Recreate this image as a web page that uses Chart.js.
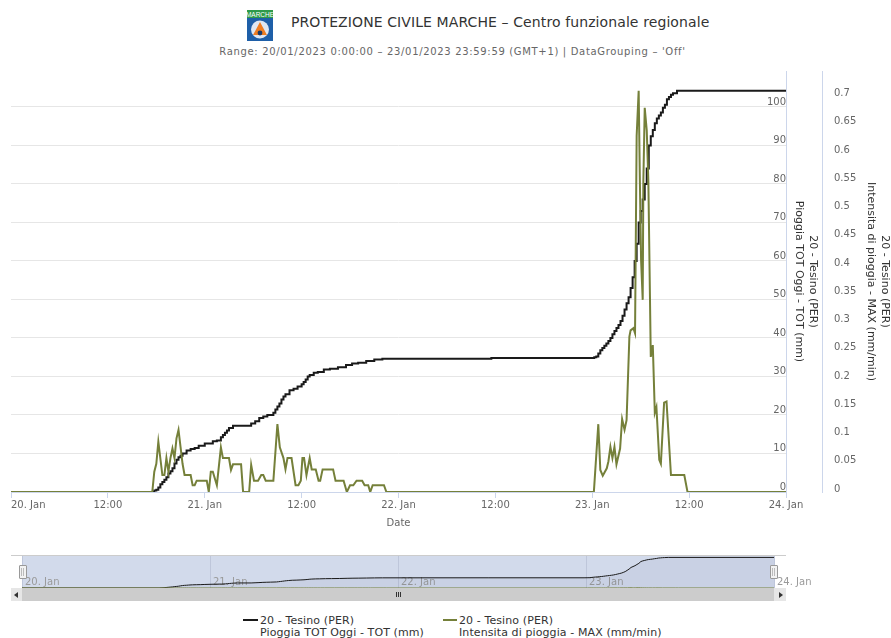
<!DOCTYPE html>
<html><head><meta charset="utf-8">
<script src="https://cdn.jsdelivr.net/npm/chart.js@4/dist/chart.umd.min.js"></script>
<style>
html,body{margin:0;padding:0;background:#fff;width:891px;height:638px;overflow:hidden;font-family:"DejaVu Sans",sans-serif}
canvas{position:absolute;display:block}
.t{position:absolute;white-space:nowrap;text-align:center}
.box{position:absolute;box-sizing:border-box}
.leg{position:absolute;white-space:pre;font-size:11px;line-height:12px;color:#333;top:615px;letter-spacing:.1px}
</style></head><body>
<svg style="position:absolute;left:247px;top:10px" width="26" height="31" viewBox="0 0 26 31">
<rect width="26" height="31" fill="#1e5fa8"/><rect width="26" height="8" fill="#2e9a4a"/>
<text x="13" y="7" text-anchor="middle" font-size="6.5" fill="#fff" font-family="Liberation Sans Narrow, Liberation Sans">MARCHE</text>
<circle cx="13" cy="19.5" r="9" fill="#dfe7f2"/><path d="M13 12 L20 25 H6 Z" fill="#ee7d22"/><circle cx="13" cy="23" r="2.4" fill="#1b3b68"/>
</svg>
<div class="t" id="mainTitle" style="left:291px;width:418px;top:13px;font-size:14px;line-height:18px;color:#333;letter-spacing:.1px"></div>
<div class="t" id="subTitle" style="left:219px;width:467px;top:45px;font-size:10px;line-height:13px;color:#666;letter-spacing:.67px"></div>
<canvas id="main" width="891" height="545" style="left:0;top:0"></canvas>
<canvas id="nav" width="891" height="43" style="left:0;top:545px"></canvas>
<div class="box" style="left:11px;top:555px;width:11px;height:1px;background:#ccc"></div>
<div class="box" style="left:774px;top:555px;width:12px;height:1px;background:#ccc"></div>
<div class="box" style="left:22px;top:588px;width:752px;height:13px;background:#ccc"></div>
<div class="box" style="left:11px;top:588px;width:11px;height:13px;background:#e6e6e6"></div>
<div class="box" style="left:774px;top:588px;width:12px;height:13px;background:#e6e6e6"></div>
<div class="box" style="left:14px;top:592px;border:3px solid transparent;border-right:4px solid #333;border-left:0"></div>
<div class="box" style="left:779px;top:592px;border:3px solid transparent;border-left:4px solid #333;border-right:0"></div>
<div class="box" style="left:396px;top:592px;width:5px;height:5px;background:repeating-linear-gradient(90deg,#333 0 1px,#ccc 1px 2px)"></div>
<div class="box" style="left:19px;top:565px;width:8px;height:14px;background:#f2f2f2;border:1px solid #999;border-radius:1px"></div>
<div class="box" style="left:21px;top:568px;width:3px;height:8px;border-left:1px solid #bbb;border-right:1px solid #bbb"></div>
<div class="box" style="left:770px;top:565px;width:8px;height:14px;background:#f2f2f2;border:1px solid #999;border-radius:1px"></div>
<div class="box" style="left:772px;top:568px;width:3px;height:8px;border-left:1px solid #bbb;border-right:1px solid #bbb"></div>
<div class="box" id="swatch0" style="left:243px;top:619px;width:15px;height:2px"></div>
<div class="leg" id="legend0" style="left:260px"></div>
<div class="box" id="swatch1" style="left:443px;top:619px;width:14px;height:2px"></div>
<div class="leg" id="legend1" style="left:459px"></div>
<script>
const titleText = "PROTEZIONE CIVILE MARCHE \u2013 Centro funzionale regionale";
const subtitleText = "Range: 20/01/2023 0:00:00 \u2013 23/01/2023 23:59:59 (GMT+1) | DataGrouping \u2013 'Off'";
const xTickLabels = ["20. Jan","12:00","21. Jan","12:00","22. Jan","12:00","23. Jan","12:00","24. Jan"];
const navTickLabels = ["20. Jan","21. Jan","22. Jan","23. Jan","24. Jan"];
const xAxisTitle = "Date";
const totalAxisTitle = ["20 - Tesino (PER)","Pioggia TOT Oggi - TOT (mm)"];
const rateAxisTitle = ["20 - Tesino (PER)","Intensita di pioggia - MAX (mm/min)"];
const totalLegend = ["20 - Tesino (PER)","Pioggia TOT Oggi - TOT (mm)"];
const rateLegend = ["20 - Tesino (PER)","Intensita di pioggia - MAX (mm/min)"];

// hours since 20 Jan 00:00
const totalHours = [0,17.5,17.75,18,18.25,18.5,18.75,19,19.25,19.5,19.75,20,20.25,20.5,20.75,21,21.25,21.75,22.25,22.75,23.25,24,25,25.5,26,26.25,26.5,26.75,27,27.5,29.25,29.75,30.25,30.75,31.25,31.75,32.5,32.75,33,33.25,33.5,33.75,34,34.5,35,35.5,36,36.25,36.5,36.75,37,37.5,38,38.75,39.5,40.5,41.5,42.25,43,44,45,46,59.5,71.75,72.25,72.5,72.75,73,73.25,73.5,73.75,74,74.25,74.5,74.75,75,75.25,75.5,75.75,76,76.25,76.5,76.75,77,77.25,77.5,77.75,78,78.25,78.5,78.75,79,79.25,79.5,79.75,80,80.25,80.5,80.75,81,81.25,81.5,81.75,82,82.5,96];
const totalValues = [0,0,0.4,0.6,1.2,2,2.6,3.2,3.8,4.8,5.4,6.2,7.4,8.4,9,9.4,10,10.8,11.2,11.4,12,12.6,13.2,13.4,14.2,14.8,15.4,16,16.6,17.2,17.2,17.8,18.4,19.2,19.6,20,20.6,21.4,22.2,23,24,24.8,25.4,26.4,26.8,27.4,28,28.6,29.2,30,30.4,31,31.2,31.8,32,32.4,33,33.4,33.6,34,34.4,34.6,34.8,34.8,35,35.2,36,36.8,37.4,38,38.6,39.2,40,41,41.8,42.6,43.4,44.4,45.8,47.4,49,50.6,53,55.8,60,64.5,70,73,76,80,84,90,92.4,94,95.8,97,97.8,98.6,99.8,100.6,102,102.6,103.2,103.6,104.2,104.2];
const rateHours = [0,17.5,17.75,18,18.25,18.75,19,19.25,19.5,19.75,20,20.25,20.5,20.75,21,21.25,21.5,22.25,22.5,22.75,23,24.25,24.5,24.75,25,25.5,26,26.25,26.75,27,27.25,27.5,28.5,28.75,29.5,29.75,30.1,30.6,31,31.25,31.55,32.5,33,33.3,33.75,34,34.25,34.75,35.25,35.6,35.9,36.1,36.3,36.6,37,37.25,37.75,38.1,38.3,38.6,39.9,40.2,41.2,41.6,42,42.4,42.8,43.5,43.8,44.25,44.5,44.8,46.2,46.5,72.2,72.75,73,73.3,73.8,74,74.25,74.5,74.75,75,75.45,75.7,76,76.25,76.6,76.75,77.1,77.3,77.5,77.75,77.9,78.05,78.25,78.33,78.5,78.75,78.95,79.25,79.5,79.75,79.95,80.3,80.5,80.9,81.2,81.75,83.4,83.8,96];
const rateValues = [0,0,0.036,0.05,0.089,0.03,0.03,0.06,0.036,0.06,0.077,0.06,0.095,0.11,0.08,0.05,0.03,0.03,0.012,0.012,0.02,0.02,0,0.036,0.036,0.012,0.079,0.06,0.06,0.06,0.039,0.049,0.049,0,0,0.048,0.02,0.02,0.03,0.03,0.02,0.02,0.12,0.079,0.06,0.04,0.06,0.06,0.012,0.012,0.02,0.06,0.06,0.03,0.06,0.04,0.04,0.02,0.02,0.04,0.04,0.02,0.02,0,0.012,0.012,0.02,0.02,0.012,0.012,0,0.012,0.012,0,0,0.12,0.039,0.029,0.042,0.054,0.08,0.06,0.08,0.049,0.077,0.129,0.11,0.127,0.275,0.286,0.29,0.281,0.63,0.71,0.55,0.41,0.34,0.55,0.68,0.64,0.55,0.239,0.26,0.14,0.15,0.057,0.05,0.158,0.16,0.03,0.03,0,0];

const toPoints = (xs, ys) => xs.map((x, i) => ({x, y: ys[i]}));
Chart.defaults.font.family = '"DejaVu Sans", sans-serif';
Chart.defaults.font.size = 10;
Chart.defaults.color = '#666';
Chart.defaults.animation = false;

const axisBlue = '#ccd6eb', black = '#1a1a1a', olive = '#75803a';
document.getElementById('mainTitle').textContent = titleText;
document.getElementById('subTitle').textContent = subtitleText;
document.getElementById('legend0').textContent = totalLegend.join('\n');
document.getElementById('legend1').textContent = rateLegend.join('\n');
document.getElementById('swatch0').style.background = black;
document.getElementById('swatch1').style.background = olive;

const fixW = w => s => { s.width = w; };
const fixH = h => s => { s.height = h; };

const firstLabelPlugin = {
  id: 'firstLabel',
  afterDraw(c) {
    const s = c.scales.x, ctx = c.ctx;
    ctx.save();
    ctx.font = '10px "DejaVu Sans"'; ctx.fillStyle = '#666';
    ctx.textAlign = 'left'; ctx.textBaseline = 'middle';
    ctx.fillText(xTickLabels[0], s.getPixelForValue(0), 505);
    ctx.restore();
  }
};

new Chart(document.getElementById('main'), {
  type: 'line',
  plugins: [firstLabelPlugin],
  data: { datasets: [
    {label: totalLegend.join(' '), data: toPoints(totalHours, totalValues), yAxisID: 'y', borderColor: black, borderWidth: 2, pointRadius: 0, stepped: true, order: 2},
    {label: rateLegend.join(' '), data: toPoints(rateHours, rateValues), yAxisID: 'y2', borderColor: olive, borderWidth: 2, pointRadius: 0, order: 1}
  ]},
  options: {
    responsive: false,
    layout: {padding: {left: 11, top: 71, right: 0, bottom: 0}},
    plugins: {legend: {display: false}, tooltip: {enabled: false}},
    scales: {
      x: {type: 'linear', min: 0, max: 96, afterFit: fixH(53),
        grid: {drawOnChartArea: false, color: axisBlue, tickLength: 6},
        border: {color: axisBlue},
        ticks: {stepSize: 12, autoSkip: false, maxRotation: 0, padding: 1, callback: v => (v === 0 ? '' : xTickLabels[v / 12])},
        title: {display: true, text: xAxisTitle, color: '#666', padding: {top: 0, bottom: 16}, font: {size: 10}}},
      y: {position: 'right', weight: 0, min: 0, max: 109.35, afterFit: fixW(36),
        grid: {color: '#e6e6e6', drawTicks: false},
        border: {color: axisBlue},
        ticks: {stepSize: 10, includeBounds: false, mirror: true, padding: 0, labelOffset: -5},
        title: {display: true, text: totalAxisTitle, color: '#333', padding: {top: 3, bottom: 0}, font: {size: 11}}},
      y2: {position: 'right', weight: 1, min: 0, max: 0.745, afterFit: fixW(69),
        grid: {drawOnChartArea: false, drawTicks: false},
        border: {color: axisBlue},
        ticks: {stepSize: 0.05, includeBounds: false, padding: 12, labelOffset: -3, callback: v => String(+v.toFixed(2))},
        title: {display: true, text: rateAxisTitle, color: '#333', padding: {top: 0, bottom: 0}, font: {size: 11}}}
    }
  }
});

const maskPlugin = {
  id: 'mask',
  beforeDatasetsDraw(c) {
    const a = c.chartArea, ctx = c.ctx, s = c.scales.x;
    ctx.save();
    ctx.fillStyle = 'rgb(210,218,235)';
    ctx.fillRect(a.left, a.top, a.right - a.left, a.bottom - a.top);
    ctx.strokeStyle = 'rgb(190,198,218)'; ctx.lineWidth = 1;
    s.ticks.forEach(t => {
      const p = Math.round(s.getPixelForValue(t.value)) + 0.5;
      ctx.beginPath(); ctx.moveTo(p, a.top); ctx.lineTo(p, a.bottom); ctx.stroke();
    });
    ctx.strokeStyle = '#ccc';
    ctx.beginPath(); ctx.moveTo(a.left, a.top - 0.5); ctx.lineTo(a.right, a.top - 0.5); ctx.stroke();
    ctx.font = '10px "DejaVu Sans"'; ctx.fillStyle = '#9a9a9a';
    ctx.textAlign = 'left'; ctx.textBaseline = 'middle';
    s.ticks.forEach(t => ctx.fillText(navTickLabels[t.value / 24], s.getPixelForValue(t.value) + 3, a.bottom - 6));
    ctx.restore();
  }
};

new Chart(document.getElementById('nav'), {
  type: 'line',
  plugins: [maskPlugin],
  data: { datasets: [
    {label: totalLegend.join(' '), data: toPoints(totalHours, totalValues), borderColor: black, fill: {target: 'origin', above: 'rgba(40,50,90,0.05)'}, borderWidth: 1, pointRadius: 0, order: 2},
    {label: rateLegend.join(' '), data: toPoints(rateHours, rateValues), borderColor: olive, borderWidth: 1, pointRadius: 0, order: 1}
  ]},
  options: {
    responsive: false,
    layout: {padding: {left: 22, top: 11, right: 117, bottom: 0}},
    plugins: {tooltip: {enabled: false}, legend: {display: false}},
    scales: {
      x: {type: 'linear', min: 0, max: 96, afterFit: fixH(0),
        grid: {display: false}, border: {display: false},
        ticks: {stepSize: 24, autoSkip: false, maxRotation: 0, display: false}},
      y: {display: false, min: 0, max: 109}
    }
  }
});
</script>
</body></html>
